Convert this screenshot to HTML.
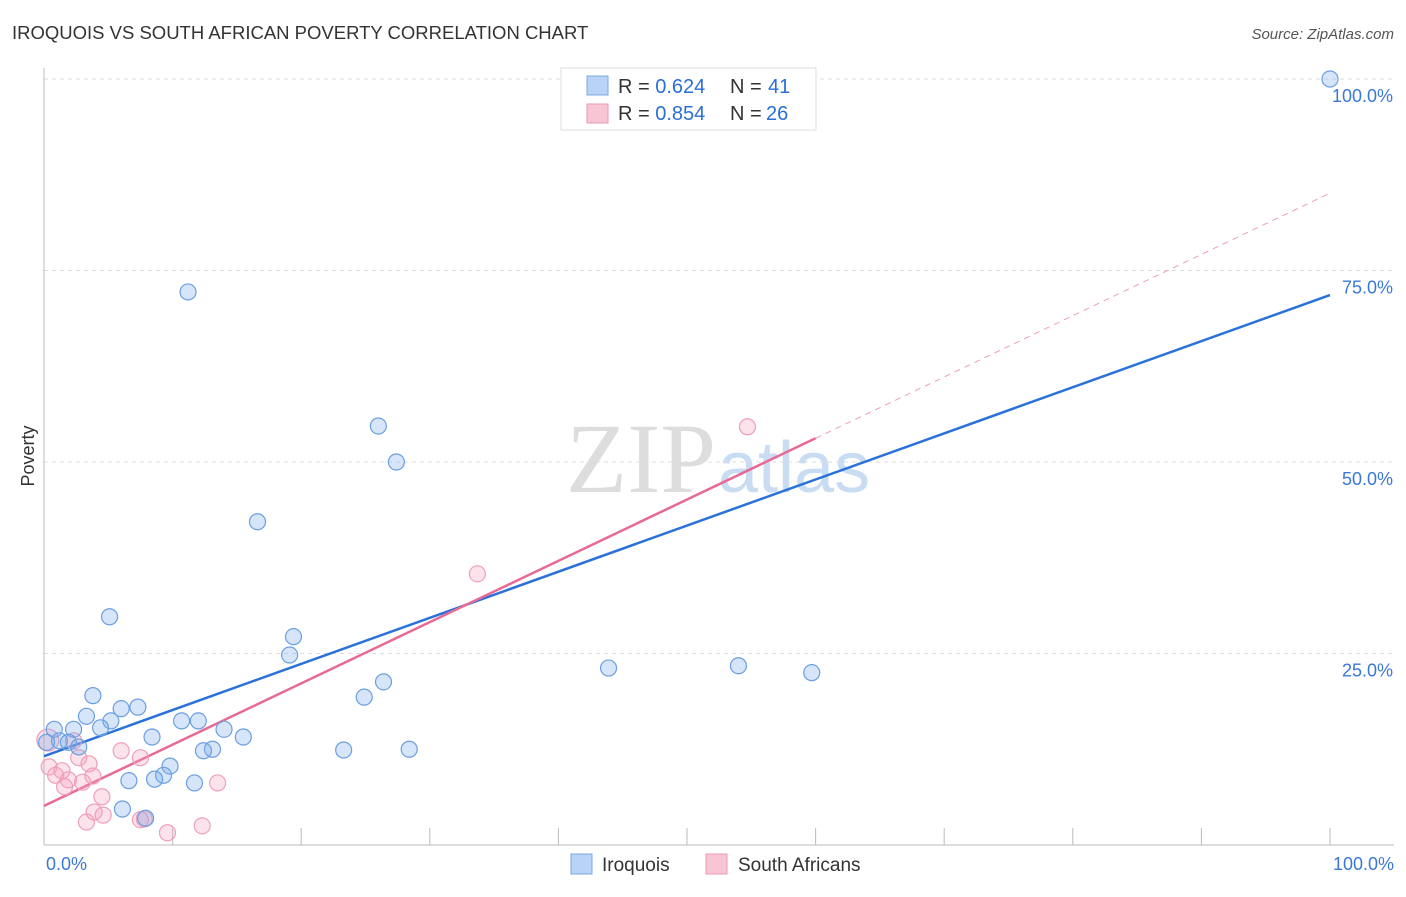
<!DOCTYPE html>
<html><head><meta charset="utf-8"><style>
body{margin:0;background:#fff;font-family:"Liberation Sans",sans-serif;}
</style></head><body>
<svg id="chart" width="1406" height="892" font-family="Liberation Sans, sans-serif">
<text x="12" y="39" font-size="18.5" fill="#333">IROQUOIS VS SOUTH AFRICAN POVERTY CORRELATION CHART</text>
<text x="1394" y="39" font-size="15" fill="#555" font-style="italic" text-anchor="end">Source: ZipAtlas.com</text>
<text x="716" y="492" font-size="100" fill="#ddd" text-anchor="end" style="font-family:'Liberation Serif',serif">ZIP</text>
<text x="718" y="492" font-size="72" fill="#c8dcf2">atlas</text>
<text x="34" y="456" font-size="18" fill="#333" transform="rotate(-90 34 456)" text-anchor="middle">Poverty</text>
<g id="grid"></g>
<g id="axes"></g>
<g id="lines"></g>
<g id="points"></g>
<g>
<rect x="561" y="68" width="255" height="62" fill="#fff" stroke="#ddd"/>
<rect x="587" y="76" width="21" height="19" fill="#b8d3f5" stroke="#7aa8e0"/>
<rect x="587" y="104" width="21" height="19" fill="#f8c5d5" stroke="#eb9ab4"/>
<text x="618" y="93" font-size="20" fill="#333">R = <tspan fill="#2a6fd6">0.624</tspan><tspan x="730">N = </tspan><tspan fill="#2a6fd6" x="768">41</tspan></text>
<text x="618" y="120" font-size="20" fill="#333">R = <tspan fill="#2a6fd6">0.854</tspan><tspan x="730">N = </tspan><tspan fill="#2a6fd6" x="766">26</tspan></text>
</g>
<g>
<rect x="571" y="854" width="21" height="20" fill="#b8d3f5" stroke="#7aa8e0"/>
<text x="602" y="871" font-size="19" fill="#333">Iroquois</text>
<rect x="706" y="854" width="21" height="20" fill="#f8c5d5" stroke="#eb9ab4"/>
<text x="738" y="871" font-size="19" fill="#333">South Africans</text>
</g>
</svg>
<script>
const yTicks=[25,50,75,100];
const yTickLabels=["25.0%","50.0%","75.0%","100.0%"];
const xTicks=[0,10,20,30,40,50,60,70,80,90,100];
const iroX=[100,11.2,26.0,27.4,16.6,5.1,19.4,19.1,43.9,54.0,59.7,26.4,24.9,3.8,3.3,6.0,7.3,5.2,4.4,10.7,12.0,14.0,0.8,2.3,8.4,15.5,1.2,1.9,2.7,13.1,12.4,23.3,28.4,9.8,9.3,8.6,6.6,11.7,6.1,7.9,0.2];
const iroY=[100,72.2,54.7,50.0,42.2,29.8,27.2,24.8,23.1,23.4,22.5,21.3,19.3,19.5,16.8,17.8,18.0,16.2,15.3,16.2,16.2,15.1,15.1,15.1,14.1,14.1,13.6,13.4,12.8,12.5,12.3,12.4,12.5,10.3,9.1,8.6,8.4,8.1,4.7,3.5,13.4];
const saX=[54.7,33.7,0.3,2.3,6.0,7.5,2.7,3.5,0.4,1.4,0.9,3.8,1.9,3.0,1.6,13.5,4.5,3.9,4.6,3.3,7.5,7.8,9.6,12.3];
const saY=[54.6,35.4,13.7,13.6,12.3,11.4,11.4,10.6,10.2,9.7,9.1,9.0,8.5,8.2,7.6,8.1,6.3,4.3,3.9,3.0,3.3,3.4,1.6,2.5];
const iroLine=[11.6,71.8];
const saLine=[5.1,85.1];
const saSolidEnd=60;
const NS="http://www.w3.org/2000/svg";
const X=v=>44+v*12.86, Y=v=>845-v*7.66;
function mk(tag,attrs,parent){const e=document.createElementNS(NS,tag);for(const k in attrs)e.setAttribute(k,attrs[k]);document.getElementById(parent).appendChild(e);return e;}
yTicks.forEach((t,i)=>{
 const g=mk('line',{x1:44,x2:1394,y1:Y(t),y2:Y(t),stroke:'#ddd','stroke-dasharray':'4,4'},'grid');
 
 
 const l=mk('text',{x:1393,y:Y(t)+23,'font-size':18,fill:'#3a78d8','text-anchor':'end'},'axes');
 l.textContent=yTickLabels[i];
 
 
});
const ax=mk('line',{x1:44,x2:44,y1:68,y2:845,stroke:'#bbb'},'axes');


const bx=mk('line',{x1:44,x2:1394,y1:845,y2:845,stroke:'#bbb'},'axes');


xTicks.forEach(t=>{const e=mk('line',{x1:X(t),x2:X(t),y1:828,y2:845,stroke:'#bbb'},'axes');
 
 });
const x0=mk('text',{x:46,y:870,'font-size':18,fill:'#3a78d8'},'axes');x0.textContent='0.0%';


const x1=mk('text',{x:1394,y:870,'font-size':18,fill:'#3a78d8','text-anchor':'end'},'axes');x1.textContent='100.0%';


saX.forEach((v,i)=>{const c=mk('circle',{cx:X(v),cy:Y(saY[i]),r:i==2?11:8,fill:'rgba(244,160,188,0.3)',stroke:'#eea0b8','stroke-width':1.2},'points');
 
 });
iroX.forEach((v,i)=>{const c=mk('circle',{cx:X(v),cy:Y(iroY[i]),r:8,fill:'rgba(120,170,235,0.3)',stroke:'#6a9fe0','stroke-width':1.2},'points');
 
 });
const li=mk('line',{x1:X(0),y1:Y(iroLine[0]),x2:X(100),y2:Y(iroLine[1]),stroke:'#2a72d9','stroke-width':2.5},'lines');


const sy=saLine[0]+(saLine[1]-saLine[0])*saSolidEnd/100;
const ls=mk('line',{x1:X(0),y1:Y(saLine[0]),x2:X(saSolidEnd),y2:Y(sy),stroke:'#e86a94','stroke-width':2.5},'lines');


const ld=mk('line',{x1:X(saSolidEnd),y1:Y(sy),x2:X(100),y2:Y(saLine[1]),stroke:'#eaa0b8','stroke-width':1,'stroke-dasharray':'6,5'},'lines');


</script>
</body></html>
